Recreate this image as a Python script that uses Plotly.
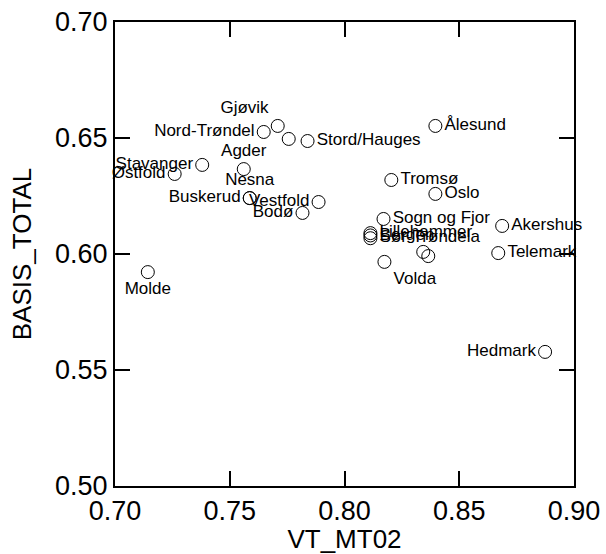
import plotly.graph_objects as go

names = ["Østfold", "Stavanger", "Nord-Trøndel", "Gjøvik", "", "Stord/Hauges",
         "Agder", "Nesna", "Buskerud", "Vestfold", "Bodø", "Molde",
         "Ålesund", "Tromsø", "Oslo", "Sogn og Fjor", "Akershus",
         "Lillehammer", "Bergen", "Sør-Trøndela", "", "", "Volda",
         "Telemark", "Hedmark"]
vt_mt02 = [0.726, 0.738, 0.7648, 0.7709, 0.7757, 0.7839,
           0.7561, 0.7587, 0.7587, 0.7887, 0.7817, 0.7143,
           0.8396, 0.8204, 0.8396, 0.8170, 0.8687,
           0.8113, 0.8113, 0.8113, 0.8343, 0.8365, 0.8174,
           0.8670, 0.8874]
basis_total = [0.6345, 0.6384, 0.6526, 0.6552, 0.6496, 0.6487,
               0.6366, 0.6241, 0.6241, 0.6224, 0.6177, 0.5922,
               0.6552, 0.6319, 0.6259, 0.6151, 0.6121,
               0.6090, 0.6080, 0.6068, 0.6009, 0.5991, 0.5966,
               0.6004, 0.5578]
label_pos = ["middle left", "middle left", "middle left", "top left", "middle right", "middle right",
             "top center", "top center", "middle left", "middle left", "middle left", "bottom center",
             "middle right", "middle right", "middle right", "middle right", "middle right",
             "middle right", "middle right", "middle right", "middle right", "middle right", "bottom right",
             "middle right", "middle left"]

x_ticks = [0.70, 0.75, 0.80, 0.85, 0.90]
y_ticks = [0.50, 0.55, 0.60, 0.65, 0.70]

FONT = "Liberation Sans, Arial, sans-serif"

fig = go.Figure()
fig.add_trace(go.Scatter(
    x=vt_mt02, y=basis_total, mode="markers+text",
    text=names, textposition=label_pos,
    textfont=dict(family=FONT, size=17, color="black"),
    marker=dict(symbol="circle-open", size=13, color="black", line=dict(width=1, color="black")),
    cliponaxis=False, showlegend=False,
))

axis_common = dict(
    showline=True, linecolor="black", linewidth=2, mirror="ticks",
    ticks="inside", ticklen=15, tickwidth=2, tickcolor="black",
    showgrid=False, zeroline=False, tickformat=".2f", automargin=False,
    tickfont=dict(family=FONT, size=27, color="black"),
)

fig.update_layout(
    width=606, height=554,
    margin=dict(l=115, r=32, t=22, b=68),
    paper_bgcolor="white", plot_bgcolor="white",
    font=dict(family=FONT, color="black"),
    xaxis=dict(range=[0.70, 0.90], tickvals=x_ticks, **axis_common,
               title=dict(text="VT_MT02", font=dict(size=26), standoff=0)),
    yaxis=dict(range=[0.50, 0.70], tickvals=y_ticks, **axis_common,
               title=dict(text="BASIS_TOTAL", font=dict(size=26), standoff=16)),
)

fig.write_html("out.html",
               config={"displayModeBar": False},
               post_script="document.body.style.margin='0px';document.body.style.overflow='hidden';")
